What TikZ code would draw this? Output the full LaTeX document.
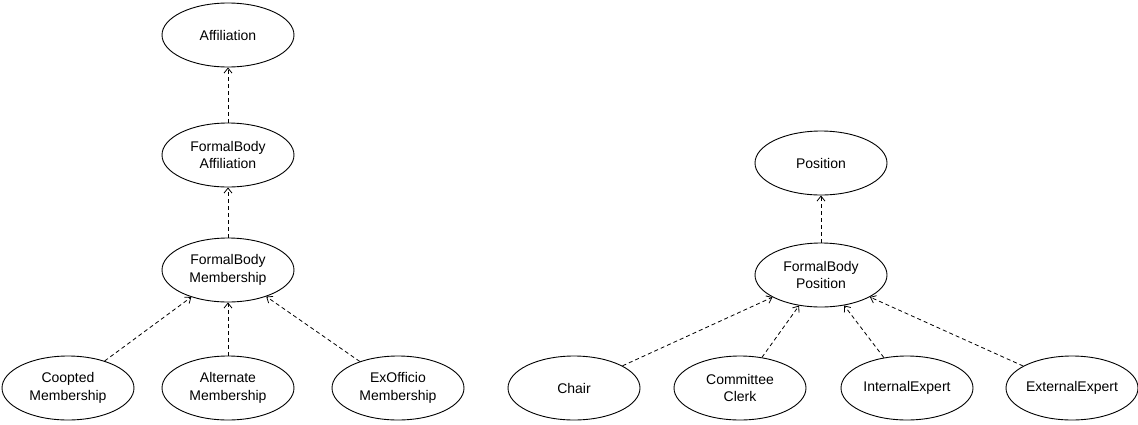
\documentclass[tikz,border=0pt]{standalone}
\usepackage{fontspec}
\setmainfont{Liberation Sans}
\usetikzlibrary{shapes.geometric,positioning,arrows.meta}

\tikzset{
  cls/.style={ellipse,draw,line width=0.9pt,minimum width=132pt,minimum height=64pt,
    inner sep=0pt,align=center,font=\fontsize{14}{17.5}\selectfont},
  gen/.style={->,line width=0.8pt,dash pattern=on 4pt off 3pt}
}

\begin{document}
\begin{tikzpicture}[>={Straight Barb[length=5pt,width=8pt]},on grid]
\useasboundingbox (0,0) rectangle (1138pt,-424pt);
% membership hierarchy
\node[cls] (aff) at (228pt,-35pt) {Affiliation};
\node[cls] (fba) [below=120pt of aff] {FormalBody\\Affiliation};
\node[cls] (fbm) [below=115pt of fba] {FormalBody\\Membership};
\node[cls] (alt) [below=118pt of fbm] {Alternate\\Membership};
\node[cls] (coop) [left=160pt of alt] {Coopted\\Membership};
\node[cls] (exo) [right=170pt of alt] {ExOfficio\\Membership};
% position hierarchy
\node[cls] (pos) at (821pt,-163pt) {Position};
\node[cls] (fbp) [below=112pt of pos] {FormalBody\\Position};
\node[cls] (clerk) [below left=113pt and 81pt of fbp] {Committee\\Clerk};
\node[cls] (chair) [left=166pt of clerk] {Chair};
\node[cls] (intx) [right=167pt of clerk] {InternalExpert};
\node[cls] (extx) [right=165pt of intx] {ExternalExpert};
\path[gen]
	(fba) edge (aff)
	(fbm) edge (fba)
	(coop) edge (fbm)
	(alt) edge (fbm)
	(exo) edge (fbm)
	(fbp) edge (pos)
	(chair) edge (fbp)
	(clerk) edge (fbp)
	(intx) edge (fbp)
	(extx) edge (fbp);
\end{tikzpicture}
\end{document}
